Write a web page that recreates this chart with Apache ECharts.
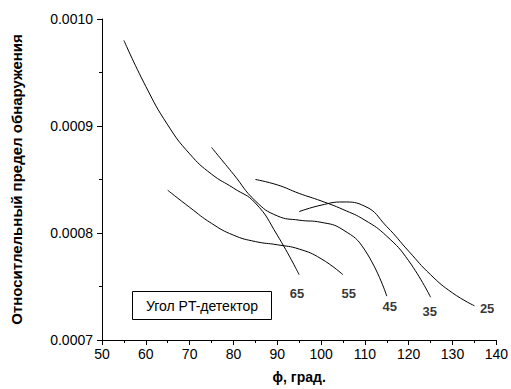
<!DOCTYPE html>
<html>
<head>
<meta charset="utf-8">
<script src="https://cdn.jsdelivr.net/npm/echarts@6/dist/echarts.min.js"></script>
<style>
  html, body { margin: 0; padding: 0; background: #fff; }
  #chart { width: 511px; height: 389px; }
</style>
</head>
<body>
<div id="chart"></div>
<script>
// Угол PT-детектор: 65, 55, 45, 35, 25
var angles = ['65', '55', '45', '35', '25'];
var phi65 = [55, 60, 65, 70, 75, 80, 85, 90, 95];
var val65 = [0.000980, 0.000937, 0.000901, 0.000874, 0.000855, 0.000842, 0.000828, 0.000798, 0.000761];
var phi55 = [65, 70, 75, 80, 85, 90, 95, 100, 105];
var val55 = [0.000840, 0.000824, 0.000809, 0.000798, 0.000792, 0.000789, 0.000785, 0.000776, 0.000761];
var phi45 = [75, 80, 85, 90, 95, 100, 105, 110, 115];
var val45 = [0.000880, 0.000855, 0.000830, 0.000816, 0.000812, 0.000810, 0.000803, 0.000784, 0.000741];
var phi35 = [85, 90, 95, 100, 105, 110, 115, 120, 125];
var val35 = [0.000850, 0.000845, 0.000837, 0.000830, 0.000822, 0.000812, 0.000797, 0.000774, 0.000740];
var phi25 = [95, 100, 105, 110, 115, 120, 125, 130, 135];
var val25 = [0.000820, 0.000826, 0.000829, 0.000825, 0.000806, 0.000783, 0.000761, 0.000744, 0.000732];
// где стоят подписи кривых (в координатах данных)
var labelPhi = [94.5, 106.3, 115.7, 124.8, 137.9];
var labelVal = [0.000743, 0.000743, 0.000731, 0.000727, 0.000729];

var phis = [phi65, phi55, phi45, phi35, phi25];
var vals = [val65, val55, val45, val35, val25];

var font = 'Arial, "Liberation Sans", sans-serif';

function pairs(xs, ys) {
  return xs.map(function(x, i) { return [x, ys[i]]; });
}

var series = angles.map(function(a, k) {
  return {
    name: a,
    type: 'line',
    smooth: true,
    showSymbol: false,
    data: pairs(phis[k], vals[k]),
    lineStyle: { color: '#000', width: 1 }
  };
});

series.push({
  type: 'scatter',
  symbolSize: 0,
  data: labelPhi.map(function(x, i) { return { value: [x, labelVal[i]], name: angles[i] }; }),
  label: {
    show: true,
    position: 'inside',
    formatter: function(p) { return p.name; },
    color: '#000',
    fontFamily: font,
    fontSize: 13,
    fontWeight: 'bold'
  }
});

var chart = echarts.init(document.getElementById('chart'), null, { renderer: 'svg' });
chart.setOption({
  animation: false,
  grid: { left: 102, right: 13, top: 19, bottom: 49 },
  xAxis: {
    type: 'value',
    min: 50, max: 140, interval: 10,
    name: 'ϕ, град.',
    nameLocation: 'middle',
    nameGap: 30,
    nameTextStyle: { color: '#000', fontFamily: font, fontSize: 14, fontWeight: 'bold' },
    axisLine: { onZero: false, lineStyle: { color: '#000', width: 1 } },
    axisTick: { inside: false, length: 5, lineStyle: { color: '#000' } },
    minorTick: { show: true, splitNumber: 2, length: 3, lineStyle: { color: '#000' } },
    axisLabel: { color: '#000', fontFamily: font, fontSize: 14, margin: 7 },
    splitLine: { show: false }
  },
  yAxis: {
    type: 'value',
    min: 0.0007, max: 0.0010, interval: 0.0001,
    name: 'Относитлельный предел обнаружения',
    nameLocation: 'middle',
    nameGap: 78,
    nameTextStyle: { color: '#000', fontFamily: font, fontSize: 15, fontWeight: 'bold' },
    axisLine: { show: true, onZero: false, lineStyle: { color: '#000', width: 1 } },
    axisTick: { show: true, inside: false, length: 5, lineStyle: { color: '#000' } },
    minorTick: { show: true, splitNumber: 2, length: 3, lineStyle: { color: '#000' } },
    axisLabel: {
      color: '#000', fontFamily: font, fontSize: 14, margin: 9,
      formatter: function(v) { return v.toFixed(4); }
    },
    splitLine: { show: false }
  },
  graphic: [{
    type: 'group',
    left: 132, top: 291,
    children: [
      { type: 'rect', shape: { x: 0, y: 0, width: 139, height: 28 },
        style: { fill: '#fff', stroke: '#000', lineWidth: 1 } },
      { type: 'text', x: 69.5, y: 14,
        style: { text: 'Угол PT-детектор', fill: '#000', font: '14px ' + font,
                 textAlign: 'center', textVerticalAlign: 'middle' } }
    ]
  }],
  series: series
});
</script>
</body>
</html>
